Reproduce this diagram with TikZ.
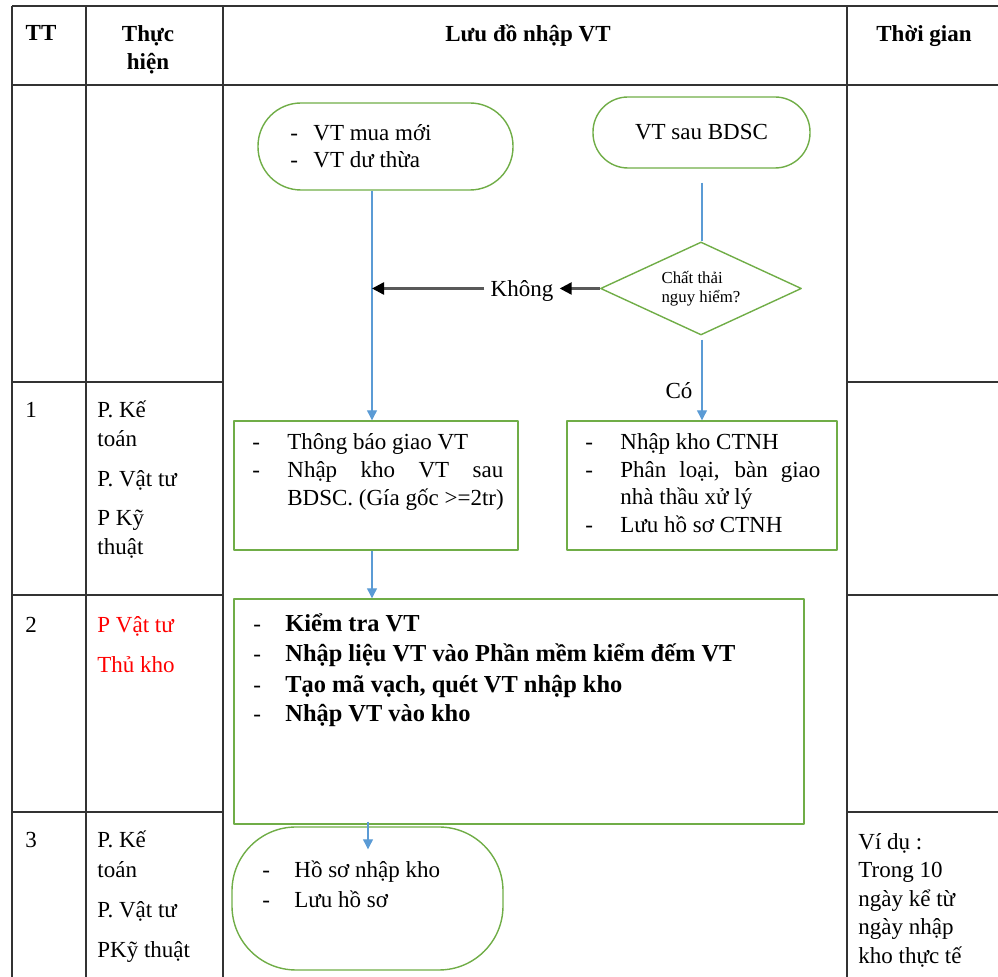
\documentclass[tikz,border=0pt]{standalone}
\usepackage{fontspec}
\setmainfont{Liberation Serif}
\usetikzlibrary{arrows.meta,shapes.geometric}
\definecolor{boxgreen}{RGB}{112,173,71}
\definecolor{lineblue}{RGB}{91,155,213}
\newcommand\cellfont{\fontsize{11.5}{14}\selectfont}
\newcommand\boldcell{\fontsize{12.2}{14}\selectfont\bfseries}
\newcommand\smallcell{\fontsize{8.4}{9.5}\selectfont}
\tikzset{
  grid/.style={draw=black!80, line width=1pt},
  cell/.style={anchor=base west, inner sep=0pt, font=\cellfont},
  head/.style={anchor=base, inner sep=0pt, font=\cellfont\bfseries},
  fbox/.style={draw=boxgreen, line width=0.7pt, inner sep=0pt},
  plain/.style={draw=lineblue, line width=0.6pt},
  flow/.style={plain, -{Triangle[length=5pt,width=5pt]}},
  nope/.style={draw=black!65, line width=1.2pt, -{Triangle[length=6pt,width=6pt,color=black]}},
}
\begin{document}
\begin{tikzpicture}[x=0.5pt, y=-0.5pt, line join=round]
\useasboundingbox (0,0) rectangle (998,977);
\clip (0,0) rectangle (998,977);
% table
\draw[grid] (12,6) -- (1010,6);
\draw[grid] (12,85) -- (1010,85);
\foreach \yy in {382,595,812} \draw[grid] (12,\yy) -- (223,\yy) (847,\yy) -- (1010,\yy);
\foreach \xx in {12,86,223,847} \draw[grid] (\xx,6) -- (\xx,990);
% header
\node[head] (hTT) at (41,41) {TT};
\node[head] (hTH1) at (148,42) {Thực};
\node[head] (hTH2) at (148,70) {hiện};
\node[head] (hLD) at (528,42) {Lưu đồ nhập VT};
\node[head] (hTG) at (924,42) {Thời gian};
% TT
\foreach \yy/\tx [count=\i] in {418/1,633/2,848/3} \node[cell] (tt\i) at (25,\yy) {\tx};
% thuc hien
\foreach \yy/\tx [count=\i] in {418/P. Kế, 447/toán, 487/P. Vật tư, 526/P Kỹ, 555/thuật}
  \node[cell] (thA\i) at (97,\yy) {\tx};
\foreach \yy/\tx [count=\i] in {633/P Vật tư, 673/Thủ kho}
  \node[cell, text=red] (thB\i) at (97,\yy) {\tx};
\foreach \yy/\tx [count=\i] in {848/P. Kế, 878/toán, 918/P. Vật tư, 958/PKỹ thuật}
  \node[cell] (thC\i) at (97,\yy) {\tx};
% thoi gian
\foreach \yy/\tx [count=\i] in {850/Ví dụ :, 878/Trong 10, 907/ngày kể từ, 935/ngày nhập, 964/kho thực tế}
  \node[cell] (tg\i) at (858,\yy) {\tx};

% flow chart
\node[fbox, rounded corners=21.5pt, minimum width=127.5pt, minimum height=43.5pt] (mua) at (385.5,146.5) {};
\node[fbox, rounded corners=17.5pt, minimum width=108.5pt, minimum height=35.5pt, font=\cellfont] (bdsc) at (701.5,132.5) {VT sau BDSC};
\node[fbox, diamond, aspect=2.15, minimum width=100.5pt, minimum height=46.5pt, font=\smallcell, align=left] (chk) at (701,288.5) {Chất thải\\nguy hiểm?};
\node[fbox, minimum width=142pt, minimum height=64.5pt] (tb) at (376,485.5) {};
\node[fbox, minimum width=135pt, minimum height=64.5pt] (ctnh) at (702,485.5) {};
\node[fbox, minimum width=285pt, minimum height=112.5pt] (kt) at (519,711.5) {};
\node[fbox, rounded corners=32pt, minimum width=135.5pt, minimum height=71.5pt] (hs) at (367.5,898.5) {};

\foreach \yy/\tx [count=\i] in {141/VT mua mới, 168/VT dư thừa} {
  \node[cell] (muad\i) at (290,\yy) {-};
  \node[cell] (muat\i) at (313,\yy) {\tx};
}
\foreach \yy [count=\i] in {450,478} \node[cell] (tbd\i) at (252,\yy) {-};
\foreach \yy/\tx [count=\i] in {450/Thông báo giao VT, 478/{\makebox[108pt][s]{Nhập kho VT sau}}, 506/{BDSC. (Gía gốc >=2tr)}}
  \node[cell] (tbt\i) at (287,\yy) {\tx};
\foreach \yy [count=\i] in {450,478,533} \node[cell] (ctd\i) at (585,\yy) {-};
\foreach \yy/\tx [count=\i] in {450/Nhập kho CTNH, 478/{\makebox[100pt][s]{Phân loại, bàn giao}}, 505/nhà thầu xử lý, 533/Lưu hồ sơ CTNH}
  \node[cell] (ctt\i) at (620,\yy) {\tx};
\foreach \yy/\tx [count=\i] in {632/Kiểm tra VT, 662/Nhập liệu VT vào Phần mềm kiểm đếm VT, 693/{Tạo mã vạch, quét VT nhập kho}, 722/Nhập VT vào kho} {
  \node[cell] (ktd\i) at (253,\yy) {-};
  \node[cell, font=\boldcell] (ktt\i) at (285,\yy) {\tx};
}
\foreach \yy/\tx [count=\i] in {878/Hồ sơ nhập kho, 908/Lưu hồ sơ} {
  \node[cell] (hsd\i) at (262,\yy) {-};
  \node[cell] (hst\i) at (294,\yy) {\tx};
}

% connectors
\coordinate (ax) at (372,0);
\coordinate (bx) at (368,0);
\node[cell, anchor=base, inner xsep=3pt] (khong) at (522,297) {Không};
\node[cell, anchor=base] (co) at (679,399) {Có};
\draw[flow] (mua.south -| ax) -- (tb.north -| ax);
\draw[plain, shorten <=7pt] (bdsc.south -| ctnh.north) -- (chk.north -| ctnh.north);
\draw[flow, shorten <=2pt] (chk.south -| ctnh.north) -- (ctnh.north);
\draw[nope] (chk.west) -- (chk.west -| khong.east);
\draw[nope] (chk.west -| khong.west) -- (chk.west -| ax);
\draw[flow] (tb.south -| ax) -- (kt.north -| ax);
\draw[flow, shorten <=-1.5pt, shorten >=-11.5pt] (kt.south -| bx) -- (hs.north -| bx);
\end{tikzpicture}
\end{document}
